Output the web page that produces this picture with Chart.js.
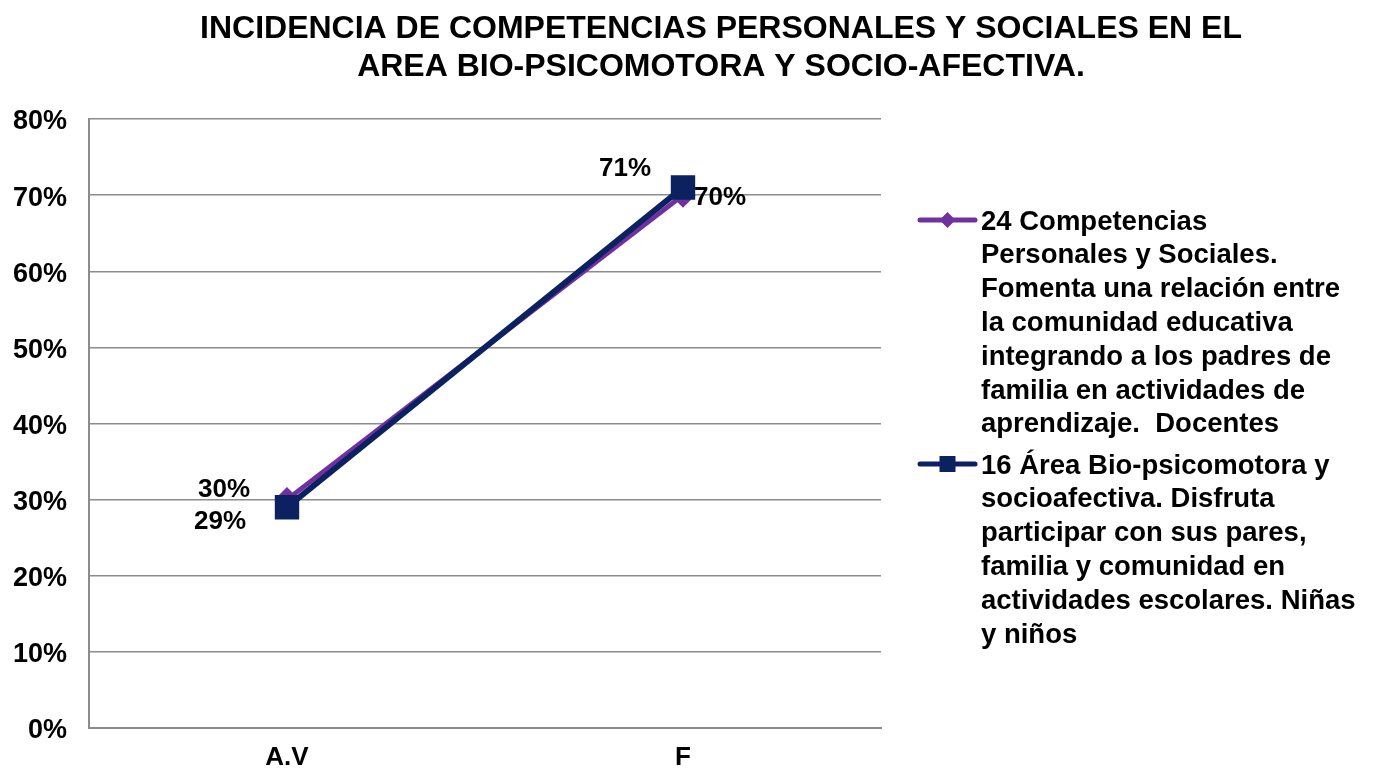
<!DOCTYPE html>
<html>
<head>
<meta charset="utf-8">
<style>
  html, body { margin: 0; padding: 0; background: #fff; }
  #wrap { width: 1384px; height: 770px; position: relative; }
</style>
<script src="https://cdn.jsdelivr.net/npm/chart.js@4"></script>
</head>
<body>
<div id="wrap"><canvas id="c" width="1384" height="770"></canvas></div>
<script>
const categories = ['A.V', 'F'];
const competencias = [30, 70];
const bioPsicomotora = [29, 71];
const yTicks = [0, 10, 20, 30, 40, 50, 60, 70, 80];

const seriesNames = [
  ['24 Competencias', 'Personales y Sociales.', 'Fomenta una relación entre', 'la comunidad educativa',
   'integrando a los padres de', 'familia en actividades de', 'aprendizaje.  Docentes'],
  ['16 Área Bio-psicomotora y', 'socioafectiva. Disfruta', 'participar con sus pares,',
   'familia y comunidad en', 'actividades escolares. Niñas', 'y niños']
];
const titleLines = ['INCIDENCIA DE COMPETENCIAS PERSONALES Y SOCIALES EN EL', 'AREA BIO-PSICOMOTORA Y SOCIO-AFECTIVA.'];

const FONT = '"Liberation Sans", Arial, sans-serif';
const PURPLE = '#7030A0';
const NAVY = '#0C2160';
const GRID = '#8c8c8c';

// value labels beside each point: [dx, dy] offsets per series/point
const labelOffsets = [
  [[-63, -10], [37, 3]],
  [[-67, 15], [-58, -19]]
];

const chartTitle = {
  id: 'chartTitle',
  afterDraw(chart) {
    const ctx = chart.ctx;
    ctx.save();
    ctx.font = 'bold 32px ' + FONT;
    ctx.fillStyle = '#000';
    ctx.textAlign = 'center';
    ctx.textBaseline = 'middle';
    titleLines.forEach((t, i) => ctx.fillText(t, 721, 29 + i * 38));
    ctx.restore();
  }
};

const valueLabels = {
  id: 'valueLabels',
  afterDatasetsDraw(chart) {
    const ctx = chart.ctx;
    ctx.save();
    ctx.font = 'bold 26px ' + FONT;
    ctx.fillStyle = '#000';
    ctx.textAlign = 'center';
    ctx.textBaseline = 'middle';
    chart.data.datasets.forEach((ds, i) => {
      const meta = chart.getDatasetMeta(i);
      meta.data.forEach((pt, j) => {
        const off = labelOffsets[i][j];
        ctx.fillText(ds.data[j] + '%', pt.x + off[0], pt.y + off[1]);
      });
    });
    ctx.restore();
  }
};

const sideLegend = {
  id: 'sideLegend',
  afterDraw(chart) {
    const ctx = chart.ctx;
    const x0 = 920, x1 = 975, tx = 981, lh = 33.8;
    const starts = [220, 464];
    ctx.save();
    ctx.font = 'bold 27.5px ' + FONT;
    ctx.textBaseline = 'middle';
    ctx.textAlign = 'left';
    chart.data.datasets.forEach((ds, i) => {
      const y = starts[i];
      ctx.strokeStyle = ds.borderColor;
      ctx.lineWidth = 5;
      ctx.lineCap = 'round';
      ctx.beginPath(); ctx.moveTo(x0, y); ctx.lineTo(x1, y); ctx.stroke();
      ctx.fillStyle = ds.pointBackgroundColor;
      const cx = (x0 + x1) / 2;
      if (ds.pointStyle === 'rectRot') {
        ctx.beginPath();
        ctx.moveTo(cx, y - 8); ctx.lineTo(cx + 8, y); ctx.lineTo(cx, y + 8); ctx.lineTo(cx - 8, y);
        ctx.closePath(); ctx.fill();
      } else {
        ctx.fillRect(cx - 8, y - 8, 16, 16);
      }
      ctx.fillStyle = '#000';
      seriesNames[i].forEach((line, k) => ctx.fillText(line, tx, y + 2 + k * lh));
    });
    ctx.restore();
  }
};

new Chart(document.getElementById('c'), {
  type: 'line',
  data: {
    labels: categories,
    datasets: [
      {
        label: seriesNames[0].join(' '),
        data: competencias,
        order: 1,
        borderColor: PURPLE,
        backgroundColor: PURPLE,
        pointBackgroundColor: PURPLE,
        pointBorderColor: PURPLE,
        pointStyle: 'rectRot',
        pointRadius: 9,
        borderWidth: 5,
        tension: 0
      },
      {
        label: seriesNames[1].join(' '),
        data: bioPsicomotora,
        order: 0,
        borderColor: NAVY,
        backgroundColor: NAVY,
        pointBackgroundColor: NAVY,
        pointBorderColor: NAVY,
        pointStyle: 'rect',
        pointRadius: 13,
        borderWidth: 6,
        tension: 0
      }
    ]
  },
  options: {
    responsive: false,
    animation: false,
    layout: { padding: { left: 0, right: 503, top: 119, bottom: 0 } },
    plugins: {
      legend: { display: false },
      tooltip: { enabled: false },
      title: { display: false }
    },
    scales: {
      x: {
        offset: true,
        afterFit(scale) { scale.height = 42; },
        grid: { display: false, drawTicks: false },
        border: { display: true, color: GRID, width: 2 },
        ticks: { color: '#000', font: { family: FONT, size: 26, weight: 'bold' }, padding: 14 }
      },
      y: {
        min: 0, max: 80,
        afterBuildTicks(scale) { scale.ticks = yTicks.map(v => ({ value: v })); },
        afterFit(scale) { scale.width = 89; },
        grid: { color: GRID, lineWidth: 1.5, drawTicks: false },
        border: { display: true, color: GRID, width: 2 },
        ticks: {
          color: '#000',
          font: { family: FONT, size: 27, weight: 'bold' },
          padding: 22,
          labelOffset: 3,
          callback: v => v + '%'
        }
      }
    }
  },
  plugins: [valueLabels, sideLegend, chartTitle]
});
</script>
</body>
</html>
